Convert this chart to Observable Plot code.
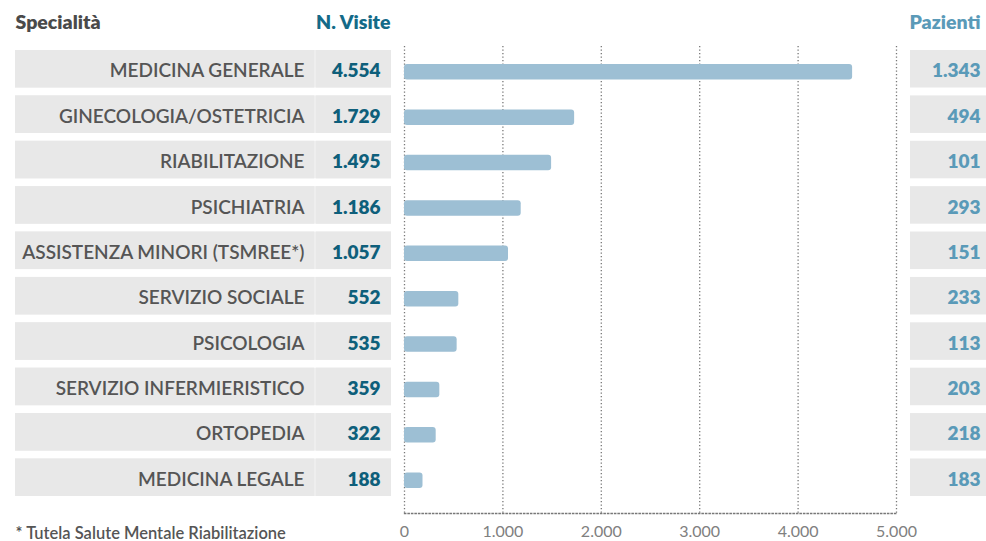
<!DOCTYPE html>
<html>
<head>
<meta charset="utf-8">
<script src="https://cdn.jsdelivr.net/npm/d3@7"></script>
<script src="https://cdn.jsdelivr.net/npm/@observablehq/plot@0.6"></script>
<style>
  html, body { margin: 0; padding: 0; background: #fff; overflow: hidden; }
</style>
</head>
<body>
<div id="chart"></div>
<script>
const categories = [
  "MEDICINA GENERALE",
  "GINECOLOGIA/OSTETRICIA",
  "RIABILITAZIONE",
  "PSICHIATRIA",
  "ASSISTENZA MINORI (TSMREE*)",
  "SERVIZIO SOCIALE",
  "PSICOLOGIA",
  "SERVIZIO INFERMIERISTICO",
  "ORTOPEDIA",
  "MEDICINA LEGALE"
];
const visite = [4554, 1729, 1495, 1186, 1057, 552, 535, 359, 322, 188];
const pazienti = [1343, 494, 101, 293, 151, 233, 113, 203, 218, 183];
const xTicks = [0, 1000, 2000, 3000, 4000, 5000];
const headerLeft = "Specialità";
const headerVisite = "N. Visite";
const headerPazienti = "Pazienti";
const footnote = "* Tutela Salute Mentale Riabilitazione";

const locale = d3.formatLocale({decimal: ",", thousands: ".", grouping: [3], currency: ["€", ""]});
const fmt = locale.format(",d");

const data = categories.map((c, i) => ({c, v: visite[i], p: pazienti[i]}));

const FONT = "Lato, 'Open Sans', sans-serif";

const chart = Plot.plot({
  width: 986,
  height: 541,
  marginLeft: 404,
  marginRight: 90,
  marginTop: 46,
  marginBottom: 28,
  style: {fontFamily: FONT, overflow: "visible", background: "#fff"},
  x: {domain: [0, 5000], axis: null},
  y: {domain: categories, range: [50, 496], paddingInner: 0.173, paddingOuter: 0, round: false, axis: null},
  marks: [
    // grey background boxes
    Plot.cell(data, {y: "c", fill: "#eeeeee", insetLeft: -389, insetRight: 505}),
    Plot.cell(data, {y: "c", fill: "#e8e8e8", insetLeft: -389, insetRight: 582}),
    Plot.cell(data, {y: "c", fill: "#e8e8e8", insetLeft: -88, insetRight: 505}),
    Plot.cell(data, {y: "c", fill: "#e8e8e8", insetLeft: 506, insetRight: -90}),
    // grid
    Plot.ruleX(xTicks, {stroke: "#777", strokeWidth: 1.3, strokeDasharray: "1.3,2.2"}),
    Plot.frame({anchor: "bottom", stroke: "#777", strokeWidth: 1.3, strokeDasharray: "1.3,2.2"}),
    // bars
    Plot.barX(data, {y: "c", x: "v", fill: "#9dbfd4", insetTop: 14, insetBottom: 8, rx: 3}),
    // axis
    Plot.axisX({ticks: xTicks, tickFormat: fmt, tickSize: 0, tickPadding: 12, fontSize: 16, fill: "#808080", label: null}),
    // labels
    Plot.text(data, {y: "c", text: "c", frameAnchor: "left", textAnchor: "end", dx: -100, dy: 2, fontSize: 19, fontWeight: 600, fill: "#555"}),
    Plot.text(data, {y: "c", text: d => fmt(d.v), frameAnchor: "left", textAnchor: "end", dx: -24, dy: 2, fontSize: 19, fontWeight: 800, fill: "#0e5f7b"}),
    Plot.text(data, {y: "c", text: d => fmt(d.p), frameAnchor: "right", textAnchor: "end", dx: 84, dy: 2, fontSize: 19, fontWeight: 800, fill: "#5a9ab8"}),
    // headers
    Plot.text([headerLeft], {frameAnchor: "top-left", lineAnchor: "middle", textAnchor: "start", dx: -389, dy: -24, fontSize: 19.5, fontWeight: 800, fill: "#4a4a4a"}),
    Plot.text([headerVisite], {frameAnchor: "top-left", lineAnchor: "middle", textAnchor: "end", dx: -14, dy: -24, fontSize: 19.5, fontWeight: 800, fill: "#146a88"}),
    Plot.text([headerPazienti], {frameAnchor: "top-right", lineAnchor: "middle", textAnchor: "end", dx: 84, dy: -24, fontSize: 19.5, fontWeight: 800, fill: "#5a9ab8"}),
    // footnote
    Plot.text([footnote], {frameAnchor: "bottom-left", lineAnchor: "middle", textAnchor: "start", dx: -389, dy: 20, fontSize: 16.5, fontWeight: 600, fill: "#555"})
  ]
});
document.getElementById("chart").appendChild(chart);
</script>
</body>
</html>
